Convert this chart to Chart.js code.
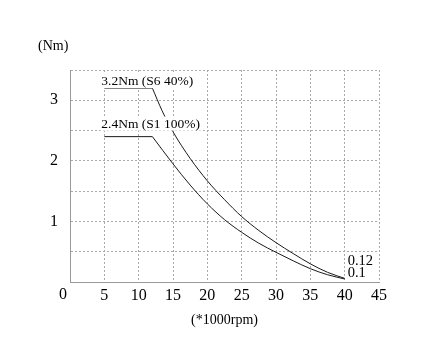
<!DOCTYPE html>
<html>
<head>
<meta charset="utf-8">
<script src="https://cdn.jsdelivr.net/npm/chart.js@4"></script>
<style>
  html, body { margin: 0; padding: 0; background: #fff; }
  #wrap { width: 428px; height: 361px; }
</style>
</head>
<body>
<div id="wrap"><canvas id="myChart" width="428" height="361"></canvas></div>
<script>
// speed in *1000rpm, torque in Nm
const s6Speed  = [5, 12, 13.4, 15, 17.5, 20, 22.5, 25, 27.5, 30, 32.5, 35, 37.5, 40];
const s6Torque = [3.2, 3.2, 2.83, 2.48, 2.04, 1.67, 1.36, 1.08, 0.85, 0.65, 0.47, 0.3, 0.16, 0.06];
const s1Speed  = [5, 12, 15, 17.5, 20, 22.5, 25, 27.5, 30, 32.5, 35, 37.5, 40];
const s1Torque = [2.4, 2.4, 1.95, 1.6, 1.29, 1.03, 0.82, 0.64, 0.49, 0.35, 0.22, 0.12, 0.05];
const xTicks = [0, 5, 10, 15, 20, 25, 30, 35, 40, 45];
const yTicks = [1, 2, 3];
const curveNames = ['3.2Nm (S6 40%)', '2.4Nm (S1 100%)'];
const endNotes = ['0.12', '0.1'];

const FONT = '"Liberation Serif", "DejaVu Serif", serif';

function pts(xs, ys, from, to) {
  const out = [];
  for (let i = from; i < to; i++) out.push({x: xs[i], y: ys[i]});
  return out;
}

const lineStyle = {
  borderColor: '#1a1a1a',
  borderWidth: 1,
  pointRadius: 0,
  fill: false,
  cubicInterpolationMode: 'monotone'
};

function label(c, text, x, y) {
  const w = c.measureText(text).width;
  c.fillStyle = '#fff';
  c.fillRect(x - 1, y - 11, w + 2, 14);
  c.fillStyle = '#000';
  c.fillText(text, x, y);
}

const textPlugin = {
  id: 'texts',
  afterDatasetsDraw(chart) {
    const c = chart.ctx;
    const xs = chart.scales.x, ys = chart.scales.y;
    c.save();
    c.font = '13.5px ' + FONT;
    c.textBaseline = 'alphabetic';
    c.textAlign = 'left';
    label(c, curveNames[0], xs.getPixelForValue(s6Speed[0]) - 3, ys.getPixelForValue(s6Torque[0]) - 3);
    label(c, curveNames[1], xs.getPixelForValue(s1Speed[0]) - 3, ys.getPixelForValue(s1Torque[0]) - 9);
    const ex = xs.getPixelForValue(40) + 3;
    c.font = '14.5px ' + FONT;
    c.fillStyle = '#000';
    c.fillText(endNotes[0], ex, ys.getPixelForValue(0) - 17);
    c.fillText(endNotes[1], ex, ys.getPixelForValue(0) - 5);
    c.font = '14px ' + FONT;
    c.fillText('(Nm)', 38, 50);
    c.font = '16px ' + FONT;
    c.textAlign = 'center';
    c.fillText('0', xs.getPixelForValue(0) - 7, ys.getPixelForValue(0) + 17);
    c.restore();
  }
};

new Chart(document.getElementById('myChart'), {
  type: 'line',
  data: {
    datasets: [
      Object.assign({label: 'S6 flat', data: pts(s6Speed, s6Torque, 0, 2)}, lineStyle),
      Object.assign({label: 'S6 40%', data: pts(s6Speed, s6Torque, 1, s6Speed.length)}, lineStyle),
      Object.assign({label: 'S1 flat', data: pts(s1Speed, s1Torque, 0, 2)}, lineStyle),
      Object.assign({label: 'S1 100%', data: pts(s1Speed, s1Torque, 1, s1Speed.length)}, lineStyle)
    ]
  },
  options: {
    responsive: false,
    animation: false,
    layout: { padding: { top: 70, right: 49, left: 0, bottom: 29 } },
    plugins: { legend: { display: false }, tooltip: { enabled: false } },
    scales: {
      x: {
        type: 'linear',
        min: 0, max: 45,
        afterBuildTicks: s => { s.ticks = xTicks.map(v => ({value: v})); },
        afterFit: s => { s.height = 50; },
        ticks: {
          color: '#000',
          font: { family: FONT, size: 16 },
          padding: 4,
          maxRotation: 0,
          callback: v => v === 0 ? '' : String(v)
        },
        grid: { color: '#aaa', drawTicks: false, lineWidth: 1 },
        border: { color: '#999', width: 1, dash: [2, 2] },
        title: {
          display: true,
          text: '(*1000rpm)',
          color: '#000',
          font: { family: FONT, size: 14 },
          padding: { top: 0, bottom: 3 }
        }
      },
      y: {
        type: 'linear',
        min: 0, max: 3.5,
        afterBuildTicks: s => {
          const t = [];
          for (let i = 0; i <= 7; i++) t.push({value: i * 0.5});
          s.ticks = t;
        },
        afterFit: s => { s.width = 70; },
        ticks: {
          color: '#000',
          font: { family: FONT, size: 16 },
          padding: 12,
          callback: v => yTicks.includes(v) ? String(v) : ''
        },
        grid: { color: '#aaa', drawTicks: false, lineWidth: 1 },
        border: { color: '#999', width: 1, dash: [2, 2] }
      }
    }
  },
  plugins: [textPlugin]
});
</script>
</body>
</html>
